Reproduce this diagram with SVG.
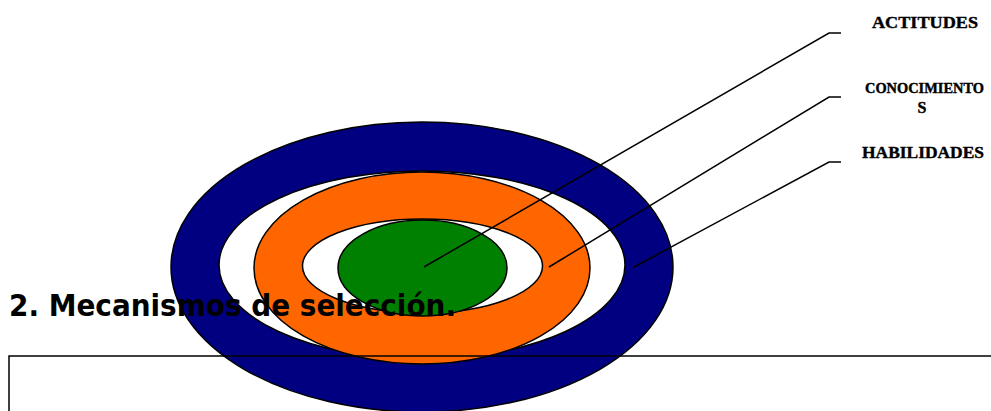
<svg xmlns="http://www.w3.org/2000/svg" width="991" height="411" viewBox="0 0 991 411">
<style>
.ring{stroke:#000;stroke-width:1.5}
.conn{fill:none;stroke:#000;stroke-width:1.5}
.lbl{font-family:"Liberation Serif","DejaVu Serif",serif;font-weight:bold;fill:#000;stroke:#000;stroke-width:0.4}
.head{font-family:"DejaVu Sans","Liberation Sans",sans-serif;font-weight:bold;fill:#000}
</style>
<rect width="991" height="411" fill="#fff"/>
<g id="rings">
<ellipse id="blue" class="ring" cx="422" cy="267" rx="251" ry="145" fill="#000080"/>
<ellipse id="white1" class="ring" cx="422" cy="265" rx="203" ry="94" fill="#fff"/>
<ellipse id="orange" class="ring" cx="422" cy="268" rx="168" ry="96" fill="#FF6600"/>
<ellipse id="white2" class="ring" cx="422.5" cy="266" rx="120" ry="47" fill="#fff"/>
<ellipse id="green" class="ring" cx="422.5" cy="268" rx="84.5" ry="48" fill="#008000"/>
</g>
<g id="connectors">
<polyline class="conn" points="424,267 829,33 841,33"/>
<polyline class="conn" points="549,267 829,97 841,97"/>
<polyline class="conn" points="634,267 829,162 841,162"/>
</g>
<g id="box">
<rect x="9" y="356" width="1000" height="100" fill="none" stroke="#000" stroke-width="1.5"/>
</g>
<g id="heading">
<text class="head" x="9" y="316" font-size="30" textLength="447" lengthAdjust="spacingAndGlyphs">2. Mecanismos de selección.</text>
</g>
<g id="label-actitudes">
<text class="lbl" x="872" y="28" font-size="17" textLength="106" lengthAdjust="spacingAndGlyphs">ACTITUDES</text>
</g>
<g id="label-conocimientos">
<text class="lbl" x="865" y="93" font-size="15" textLength="119" lengthAdjust="spacingAndGlyphs">CONOCIMIENTO</text>
<text class="lbl" x="922" y="113" font-size="16" text-anchor="middle">S</text>
</g>
<g id="label-habilidades">
<text class="lbl" x="862" y="158" font-size="17" textLength="122" lengthAdjust="spacingAndGlyphs">HABILIDADES</text>
</g>
</svg>
